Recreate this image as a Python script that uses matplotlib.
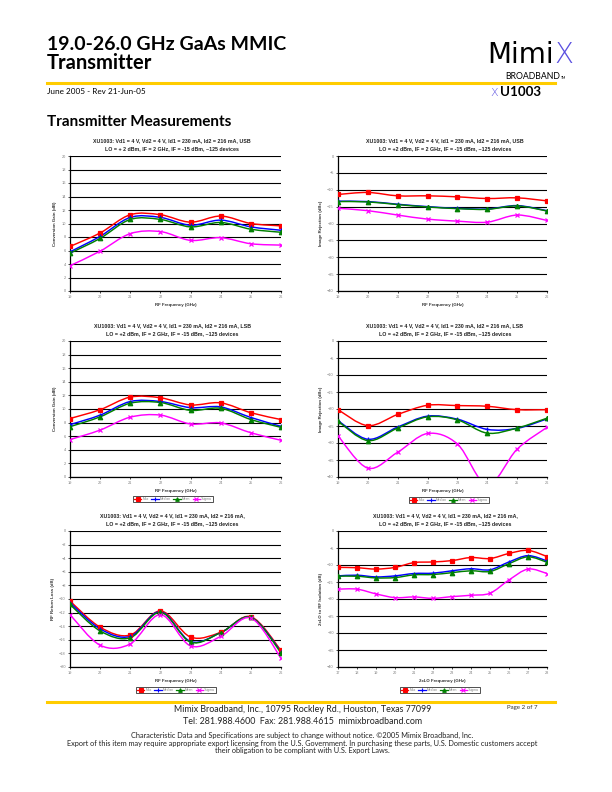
import numpy as np
import matplotlib
matplotlib.use('Agg')
import matplotlib.pyplot as plt
from matplotlib.path import Path
from matplotlib.patches import PathPatch
from matplotlib.lines import Line2D

W, H = 612, 792

# ---- data ----
rf_freq = [19, 20, 21, 22, 23, 24, 25, 26]
lo_freq = [17, 18, 19, 20, 21, 22, 23, 24, 25, 26, 27, 28]

gain_usb_max = [6.6, 8.6, 11.3, 11.3, 10.2, 11.1, 10.0, 9.65]
gain_usb_median = [5.8, 8.1, 10.9, 10.9, 9.75, 10.5, 9.5, 9.0]
gain_usb_mean = [5.6, 7.8, 10.6, 10.6, 9.5, 10.15, 9.15, 8.7]
gain_usb_3sigma = [3.75, 5.9, 8.5, 8.8, 7.5, 7.9, 7.0, 6.8]

ir_usb_max = [-11.4, -10.8, -11.8, -11.8, -12.1, -12.6, -12.4, -13.3]
ir_usb_median = [-13.4, -13.5, -14.3, -15.0, -15.5, -15.7, -14.7, -16.2]
ir_usb_mean = [-13.5, -13.6, -14.4, -15.1, -15.6, -15.8, -14.8, -16.3]
ir_usb_3sigma = [-15.5, -16.2, -17.5, -18.7, -19.3, -19.6, -17.5, -19.1]

gain_lsb_max = [8.6, 9.9, 11.75, 11.65, 10.6, 10.9, 9.45, 8.45]
gain_lsb_median = [7.7, 9.1, 11.1, 11.1, 10.2, 10.3, 8.75, 7.45]
gain_lsb_mean = [7.4, 8.85, 10.85, 10.95, 9.8, 10.1, 8.45, 7.3]
gain_lsb_3sigma = [5.5, 6.9, 8.8, 9.1, 7.8, 7.95, 6.5, 5.4]

ir_lsb_max = [-20.2, -24.9, -21.6, -18.9, -19.0, -19.2, -20.2, -20.2]
ir_lsb_median = [-23.4, -28.9, -25.3, -22.1, -23.0, -26.0, -25.7, -22.9]
ir_lsb_mean = [-23.6, -29.3, -25.6, -22.3, -23.2, -27.1, -25.6, -22.7]
ir_lsb_3sigma = [-27.9, -37.4, -32.7, -27.2, -30.3, -42.3, -31.8, -25.4]

rl_max = [-10.3, -14.15, -15.3, -11.75, -15.6, -14.9, -12.6, -17.55]
rl_median = [-10.55, -14.4, -15.5, -11.85, -16.25, -14.95, -12.7, -17.75]
rl_mean = [-10.8, -14.7, -15.7, -11.95, -16.35, -14.95, -12.7, -17.9]
rl_3sigma = [-12.3, -16.8, -16.6, -12.3, -16.9, -15.5, -12.8, -18.7]

iso_max = [-10.7, -10.8, -11.2, -10.7, -9.3, -9.1, -8.7, -7.8, -8.1, -6.6, -5.7, -7.5]
iso_median = [-13.2, -13.0, -13.5, -13.2, -12.5, -12.4, -11.7, -11.1, -11.4, -9.1, -7.25, -8.8]
iso_mean = [-13.3, -13.3, -13.8, -13.7, -12.9, -12.8, -12.25, -11.7, -11.9, -9.6, -7.6, -9.2]
iso_3sigma = [-17.1, -17.1, -18.5, -19.6, -19.4, -19.8, -19.3, -18.9, -18.3, -14.4, -11.2, -12.5]

series_names = ['Max', 'Median', 'Mean', '3sigma']
series_colors = ['#FF0000', '#0000FF', '#008000', '#FF00FF']
series_markers = ['s', '+', '^', 'x']

title_usb = 'XU1003: Vd1 = 4 V, Vd2 = 4 V, Id1 = 230 mA, Id2 = 216 mA, USB'
title_lsb = 'XU1003: Vd1 = 4 V, Vd2 = 4 V, Id1 = 230 mA, Id2 = 216 mA, LSB'
title_plain = 'XU1003: Vd1 = 4 V, Vd2 = 4 V, Id1 = 230 mA, Id2 = 216 mA,'
sub_usb1 = 'LO = + 2 dBm, IF = 2 GHz, IF = -15 dBm, ~125 devices'
sub_std = 'LO = +2 dBm, IF = 2 GHz, IF = -15 dBm, ~125 devices'

CHART_FONT = 'Liberation Sans'
PAGE_FONT = 'Lato'


def fx(x):
    return x / W


def fy(y):
    return 1 - y / H


def smooth_path(x, y):
    # Excel-style smoothed line: cubic Bezier through the data points
    pts = np.column_stack([x, y]).astype(float)
    n = len(pts)
    verts = [pts[0]]
    codes = [Path.MOVETO]
    for i in range(n - 1):
        p0 = pts[i - 1] if i > 0 else pts[i]
        p1 = pts[i]
        p2 = pts[i + 1]
        p3 = pts[i + 2] if i + 2 < n else pts[i + 1]
        verts += [p1 + (p2 - p0) / 6, p2 - (p3 - p1) / 6, p2]
        codes += [Path.CURVE4] * 3
    return Path(verts, codes)


def draw_chart(fig, box, x, data, ylim, ystep, xlabel, ylabel, t1, t2,
               tcx, legend_c=None):
    x0, y0, x1, y1 = box
    ax = fig.add_axes([fx(x0), fy(y1), (x1 - x0) / W, (y1 - y0) / H])
    for vals, c, m in zip(data, series_colors, series_markers):
        ax.add_patch(PathPatch(smooth_path(x, vals), facecolor='none',
                               edgecolor=c, lw=1.05, zorder=3))
        ms = 3.0 if m == 's' else 3.2
        ax.plot(x, vals, linestyle='none', marker=m, color=c, ms=ms,
                mew=0.9, zorder=4)
    ax.set_xlim(x[0], x[-1])
    ax.set_ylim(*ylim)
    ax.set_xticks(x)
    ax.set_yticks(np.arange(ylim[0], ylim[1] + 0.01, ystep))
    ax.yaxis.grid(True, color='black', lw=0.8)
    ax.set_axisbelow(True)
    for s in ['top', 'right']:
        ax.spines[s].set_visible(False)
    for s in ['left', 'bottom']:
        ax.spines[s].set_linewidth(0.9)
    ax.tick_params(labelsize=2.8, labelcolor='#808080', length=1.5,
                   width=0.5, pad=1.5)
    for lab in ax.get_xticklabels() + ax.get_yticklabels():
        lab.set_family(CHART_FONT)
    ax.set_xlabel(xlabel, fontsize=3.2, fontweight='bold', color='#333333',
                  family=CHART_FONT, labelpad=2.5)
    ax.set_ylabel(ylabel, fontsize=3.2, fontweight='bold', color='#333333',
                  family=CHART_FONT, labelpad=3)
    ty = y0 - 15
    fig.text(fx(tcx), fy(ty), t1, ha='center', va='center', fontsize=3.75,
             fontweight='bold', color='#222222', family=CHART_FONT)
    fig.text(fx(tcx), fy(ty + 7.5), t2, ha='center', va='center',
             fontsize=3.75, fontweight='bold', color='#222222',
             family=CHART_FONT)
    if legend_c is not None:
        handles = [Line2D([], [], color=c, marker=m, ms=2.6, mew=0.8, lw=0.9)
                   for c, m in zip(series_colors, series_markers)]
        leg = ax.legend(handles, series_names, loc='center',
                        bbox_to_anchor=(fx(legend_c[0]), fy(legend_c[1])),
                        bbox_transform=fig.transFigure, ncol=4,
                        fontsize=2.4, frameon=True, fancybox=False,
                        edgecolor='black', handlelength=2.2,
                        handletextpad=0.3, columnspacing=0.8,
                        borderpad=0.25, borderaxespad=0)
        leg.get_frame().set_linewidth(0.6)
        for t in leg.get_texts():
            t.set_color('#808080')
            t.set_family(CHART_FONT)
    return ax


fig = plt.figure(figsize=(W / 100, H / 100), dpi=100)

# ---- page header ----
fig.text(fx(47), fy(45), '19.0-26.0 GHz GaAs MMIC', fontsize=14,
         fontweight='bold', family=PAGE_FONT, va='center', ha='left')
fig.text(fx(47), fy(63), 'Transmitter', fontsize=14.5, fontweight='bold',
         family=PAGE_FONT, va='center', ha='left')
fig.add_artist(Line2D([fx(47), fx(555)], [fy(82.5), fy(82.5)],
                      color='#FFCC00', lw=2.2))
fig.text(fx(47), fy(92), 'June 2005 - Rev 21-Jun-05', fontsize=5.9,
         family=PAGE_FONT, va='center', ha='left')
fig.text(fx(47), fy(122), 'Transmitter Measurements', fontsize=11,
         fontweight='bold', family=PAGE_FONT, va='center', ha='left')

# logo
fig.canvas.draw()
rend = fig.canvas.get_renderer()
mt = fig.text(fx(487), fy(63), 'Mimi', fontsize=20, family='DejaVu Sans',
              va='baseline', ha='left')
bb = mt.get_window_extent(rend)
fig.text(bb.x1 / W + 0.001, fy(63), 'X', fontsize=20, family='DejaVu Sans',
         fontweight='light', va='baseline', ha='left', color='#5A4FE0')
fig.text(fx(560), fy(79), 'BROADBAND', fontsize=6.3, family=PAGE_FONT,
         va='baseline', ha='right')
fig.text(fx(561), fy(79), 'TM', fontsize=2.5, family=PAGE_FONT,
         va='baseline', ha='left')
fig.text(fx(498), fy(96), 'X', fontsize=8, family='DejaVu Sans',
         fontweight='light', va='baseline', ha='right', color='#5A4FE0')
fig.text(fx(500), fy(96), 'U1003', fontsize=9.6, fontweight='bold',
         family=PAGE_FONT, va='baseline', ha='left')

# ---- charts ----
L = (70, 281)
R = (338, 547)
draw_chart(fig, (L[0], 156, L[1], 291), rf_freq,
           [gain_usb_max, gain_usb_median, gain_usb_mean, gain_usb_3sigma],
           (0, 20), 2, 'RF Frequency (GHz)', 'Conversion Gain (dB)',
           title_usb, sub_usb1, 172)
draw_chart(fig, (R[0], 156, R[1], 291), rf_freq,
           [ir_usb_max, ir_usb_median, ir_usb_mean, ir_usb_3sigma],
           (-40, 0), 5, 'RF Frequency (GHz)', 'Image Rejection (dBc)',
           title_usb, sub_std, 445)
draw_chart(fig, (L[0], 341, L[1], 477), rf_freq,
           [gain_lsb_max, gain_lsb_median, gain_lsb_mean, gain_lsb_3sigma],
           (0, 20), 2, 'RF Frequency (GHz)', 'Conversion Gain (dB)',
           title_lsb, sub_std, 172, legend_c=(173, 499))
draw_chart(fig, (R[0], 341, R[1], 477), rf_freq,
           [ir_lsb_max, ir_lsb_median, ir_lsb_mean, ir_lsb_3sigma],
           (-40, 0), 5, 'RF Frequency (GHz)', 'Image Rejection (dBc)',
           title_lsb, sub_std, 445, legend_c=(449, 500))
draw_chart(fig, (L[0], 531, L[1], 667), rf_freq,
           [rl_max, rl_median, rl_mean, rl_3sigma],
           (-20, 0), 2, 'RF Frequency (GHz)', 'RF Return Loss (dB)',
           title_plain, sub_std, 172, legend_c=(176, 690))
draw_chart(fig, (R[0], 531, R[1], 667), lo_freq,
           [iso_max, iso_median, iso_mean, iso_3sigma],
           (-40, 0), 5, '2xLO Frequency (GHz)', '2xLO to RF Isolation (dB)',
           title_plain, sub_std, 445, legend_c=(440, 690))

# ---- footer ----
fig.add_artist(Line2D([fx(47), fx(555)], [fy(702), fy(702)],
                      color='#FFCC00', lw=2.2))
fig.text(fx(303), fy(710), 'Mimix Broadband, Inc., 10795 Rockley Rd., Houston, Texas 77099',
         fontsize=6.4, family=PAGE_FONT, ha='center', va='center', color='#222222')
fig.text(fx(303), fy(721), 'Tel: 281.988.4600  Fax: 281.988.4615  mimixbroadband.com',
         fontsize=6.4, family=PAGE_FONT, ha='center', va='center', color='#222222')
fig.text(fx(522), fy(707), 'Page 2 of 7', fontsize=4.4, family=PAGE_FONT,
         ha='center', va='center', color='#333333')
fig.text(fx(302), fy(735), 'Characteristic Data and Specifications are subject to change without notice. \u00a92005 Mimix Broadband, Inc.',
         fontsize=5.35, family=PAGE_FONT, ha='center', va='center', color='#222222')
fig.text(fx(302), fy(743), 'Export of this item may require appropriate export licensing from the U.S. Government. In purchasing these parts, U.S. Domestic customers accept',
         fontsize=5.35, family=PAGE_FONT, ha='center', va='center', color='#222222')
fig.text(fx(302), fy(751), 'their obligation to be compliant with U.S. Export Laws.',
         fontsize=5.35, family=PAGE_FONT, ha='center', va='center', color='#222222')

fig.savefig('out.png', dpi=100)
